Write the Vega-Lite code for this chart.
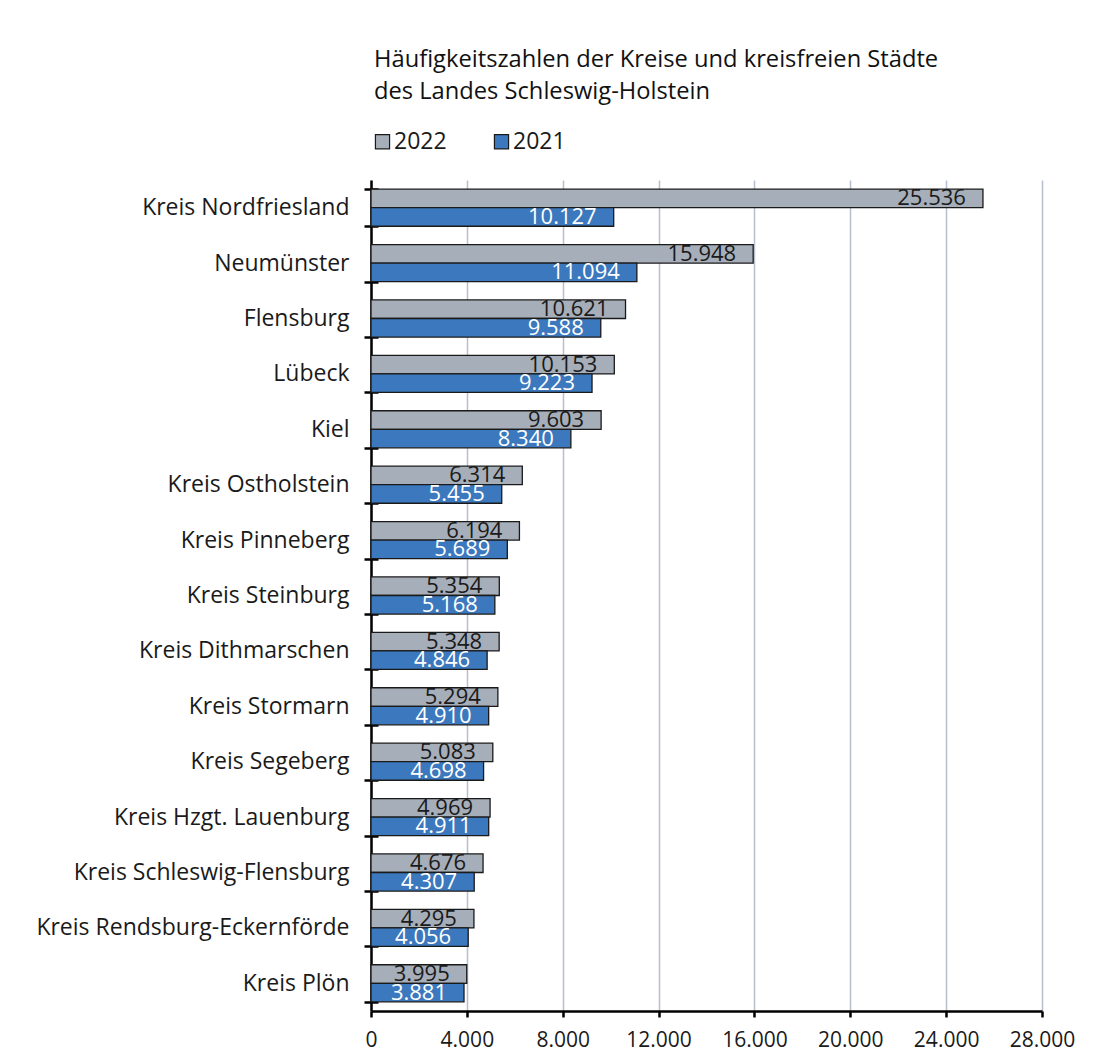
{
  "$schema": "https://vega.github.io/schema/vega-lite/v6.json",
  "width": 671,
  "height": 831,
  "autosize": {"type": "none"},
  "padding": {"left": 371, "top": 180, "right": 54, "bottom": 49},
  "background": "white",
  "config": {
    "locale": {"number": {"decimal": ",", "thousands": ".", "grouping": [3], "currency": ["", " €"]}},
    "font": "Open Sans",
    "view": {"stroke": null}
  },
  "title": {
    "text": ["Häufigkeitszahlen der Kreise und kreisfreien Städte", "des Landes Schleswig-Holstein"],
    "anchor": "start",
    "frame": "group",
    "dx": 3,
    "offset": 26,
    "fontSize": 23.7,
    "fontWeight": "normal",
    "color": "#111",
    "lineHeight": 32,
    "font": "Open Sans"
  },
  "data": {
    "values": [
      {"region": "Kreis Nordfriesland", "year": "2022", "value": 25536},
      {"region": "Kreis Nordfriesland", "year": "2021", "value": 10127},
      {"region": "Neumünster", "year": "2022", "value": 15948},
      {"region": "Neumünster", "year": "2021", "value": 11094},
      {"region": "Flensburg", "year": "2022", "value": 10621},
      {"region": "Flensburg", "year": "2021", "value": 9588},
      {"region": "Lübeck", "year": "2022", "value": 10153},
      {"region": "Lübeck", "year": "2021", "value": 9223},
      {"region": "Kiel", "year": "2022", "value": 9603},
      {"region": "Kiel", "year": "2021", "value": 8340},
      {"region": "Kreis Ostholstein", "year": "2022", "value": 6314},
      {"region": "Kreis Ostholstein", "year": "2021", "value": 5455},
      {"region": "Kreis Pinneberg", "year": "2022", "value": 6194},
      {"region": "Kreis Pinneberg", "year": "2021", "value": 5689},
      {"region": "Kreis Steinburg", "year": "2022", "value": 5354},
      {"region": "Kreis Steinburg", "year": "2021", "value": 5168},
      {"region": "Kreis Dithmarschen", "year": "2022", "value": 5348},
      {"region": "Kreis Dithmarschen", "year": "2021", "value": 4846},
      {"region": "Kreis Stormarn", "year": "2022", "value": 5294},
      {"region": "Kreis Stormarn", "year": "2021", "value": 4910},
      {"region": "Kreis Segeberg", "year": "2022", "value": 5083},
      {"region": "Kreis Segeberg", "year": "2021", "value": 4698},
      {"region": "Kreis Hzgt. Lauenburg", "year": "2022", "value": 4969},
      {"region": "Kreis Hzgt. Lauenburg", "year": "2021", "value": 4911},
      {"region": "Kreis Schleswig-Flensburg", "year": "2022", "value": 4676},
      {"region": "Kreis Schleswig-Flensburg", "year": "2021", "value": 4307},
      {"region": "Kreis Rendsburg-Eckernförde", "year": "2022", "value": 4295},
      {"region": "Kreis Rendsburg-Eckernförde", "year": "2021", "value": 4056},
      {"region": "Kreis Plön", "year": "2022", "value": 3995},
      {"region": "Kreis Plön", "year": "2021", "value": 3881}
    ]
  },
  "encoding": {
    "y": {
      "field": "region",
      "type": "nominal",
      "sort": null,
      "scale": {"paddingInner": 0.33, "paddingOuter": 0.165}
    },
    "yOffset": {
      "field": "year",
      "type": "nominal",
      "sort": ["2022", "2021"],
      "scale": {"paddingInner": 0, "paddingOuter": 0}
    },
    "x": {
      "field": "value",
      "type": "quantitative",
      "scale": {"domain": [0, 28000], "nice": false},
      "axis": {
        "title": null,
        "values": [0, 4000, 8000, 12000, 16000, 20000, 24000, 28000],
        "format": ",d",
        "labelOverlap": false,
        "labelFlush": false,
        "grid": true,
        "gridColor": "#b6bfcc",
        "gridWidth": 1.5,
        "domainColor": "#000",
        "domainWidth": 2.5,
        "tickColor": "#000",
        "tickWidth": 2.5,
        "tickSize": 6,
        "labelPadding": 12,
        "labelFontSize": 21,
        "labelColor": "#1a1a1a",
        "labelFont": "Open Sans"
      }
    }
  },
  "layer": [
    {
      "mark": {"type": "bar", "stroke": "#1a1a1a", "strokeWidth": 1.3},
      "encoding": {
        "y": {
          "field": "region",
          "type": "nominal",
          "sort": null,
          "axis": {
            "title": null,
            "orient": "left",
            "tickBand": "extent",
            "domainColor": "#000",
            "domainWidth": 2.5,
            "tickColor": "#000",
            "tickWidth": 2.5,
            "tickSize": 7,
            "labelPadding": 15,
            "labelLimit": 400,
            "labelFontSize": 23,
            "labelColor": "#1a1a1a",
            "labelFont": "Open Sans"
          }
        },
        "color": {
          "field": "year",
          "type": "nominal",
          "scale": {"domain": ["2022", "2021"], "range": ["#a6aeb9", "#3b78bd"]},
          "legend": {
            "title": null,
            "orient": "none",
            "legendX": 0,
            "legendY": -50,
            "direction": "horizontal",
            "symbolType": "square",
            "symbolSize": 200,
            "symbolStrokeColor": "#1a1a1a",
            "symbolStrokeWidth": 1.2,
            "symbolOpacity": 1,
            "labelFontSize": 23,
            "labelColor": "#1a1a1a",
            "labelFont": "Open Sans",
            "labelOffset": 0,
            "columnPadding": 43
          }
        }
      }
    },
    {
      "mark": {"type": "text", "align": "right", "baseline": "middle", "dx": -17, "dy": 0, "fontSize": 22, "font": "Open Sans"},
      "encoding": {
        "y": {
          "field": "region",
          "type": "nominal",
          "sort": null,
          "axis": {
            "title": null,
            "orient": "left",
            "offset": -7,
            "tickBand": "extent",
            "domain": false,
            "labels": false,
            "tickColor": "#000",
            "tickWidth": 2.5,
            "tickSize": 7
          }
        },
        "text": {"field": "value", "type": "quantitative", "format": ",d"},
        "color": {
          "condition": {"test": "datum.year === '2021'", "value": "white"},
          "value": "#1a1a1a"
        }
      }
    }
  ],
  "resolve": {"axis": {"y": "independent"}}
}
